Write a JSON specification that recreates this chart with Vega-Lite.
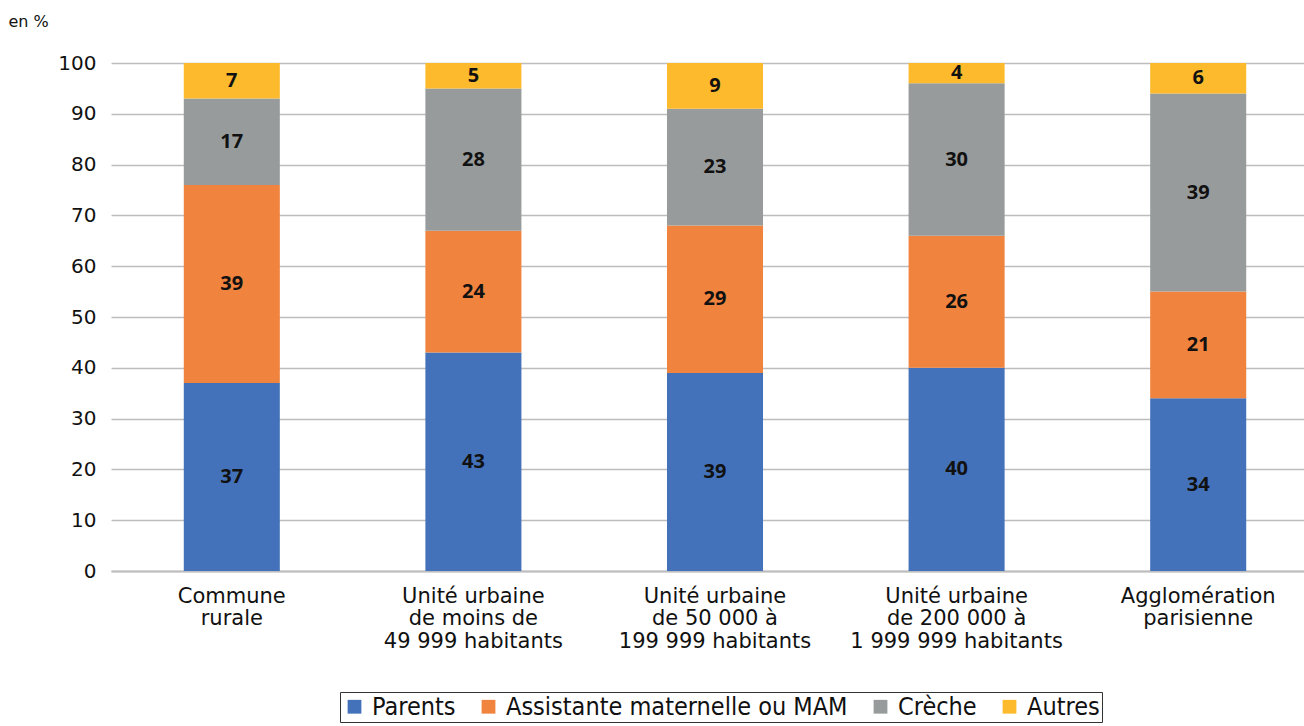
{
  "$schema": "https://vega.github.io/schema/vega-lite/v6.json",
  "width": 1190,
  "height": 508,
  "padding": {"left": 111, "top": 63, "right": 3, "bottom": 155},
  "autosize": {"type": "none"},
  "background": "white",
  "data": {
    "values": [
      {"zone": "Commune|rurale", "type": "Parents", "k": 1, "v": 37},
      {"zone": "Commune|rurale", "type": "Assistante maternelle ou MAM", "k": 2, "v": 39},
      {"zone": "Commune|rurale", "type": "Crèche", "k": 3, "v": 17},
      {"zone": "Commune|rurale", "type": "Autres", "k": 4, "v": 7},
      {"zone": "Unité urbaine|de moins de|49 999 habitants", "type": "Parents", "k": 1, "v": 43},
      {"zone": "Unité urbaine|de moins de|49 999 habitants", "type": "Assistante maternelle ou MAM", "k": 2, "v": 24},
      {"zone": "Unité urbaine|de moins de|49 999 habitants", "type": "Crèche", "k": 3, "v": 28},
      {"zone": "Unité urbaine|de moins de|49 999 habitants", "type": "Autres", "k": 4, "v": 5},
      {"zone": "Unité urbaine|de 50 000 à|199 999 habitants", "type": "Parents", "k": 1, "v": 39},
      {"zone": "Unité urbaine|de 50 000 à|199 999 habitants", "type": "Assistante maternelle ou MAM", "k": 2, "v": 29},
      {"zone": "Unité urbaine|de 50 000 à|199 999 habitants", "type": "Crèche", "k": 3, "v": 23},
      {"zone": "Unité urbaine|de 50 000 à|199 999 habitants", "type": "Autres", "k": 4, "v": 9},
      {"zone": "Unité urbaine|de 200 000 à|1 999 999 habitants", "type": "Parents", "k": 1, "v": 40},
      {"zone": "Unité urbaine|de 200 000 à|1 999 999 habitants", "type": "Assistante maternelle ou MAM", "k": 2, "v": 26},
      {"zone": "Unité urbaine|de 200 000 à|1 999 999 habitants", "type": "Crèche", "k": 3, "v": 30},
      {"zone": "Unité urbaine|de 200 000 à|1 999 999 habitants", "type": "Autres", "k": 4, "v": 4},
      {"zone": "Agglomération|parisienne", "type": "Parents", "k": 1, "v": 34},
      {"zone": "Agglomération|parisienne", "type": "Assistante maternelle ou MAM", "k": 2, "v": 21},
      {"zone": "Agglomération|parisienne", "type": "Crèche", "k": 3, "v": 39},
      {"zone": "Agglomération|parisienne", "type": "Autres", "k": 4, "v": 6}
    ]
  },
  "config": {
    "view": {"stroke": null},
    "font": "DejaVu Sans"
  },
  "encoding": {
    "x": {
      "field": "zone",
      "type": "nominal",
      "sort": null,
      "scale": {"range": [0, 1208], "paddingInner": 0.6025, "paddingOuter": 0.30125},
      "axis": {
        "title": null,
        "labelExpr": "split(datum.value, '|')",
        "labelAngle": 0,
        "labelFontSize": 21,
        "labelColor": "#111111",
        "labelLineHeight": 22.5,
        "labelPadding": 14,
        "labelBaseline": "top",
        "labelLimit": 0,
        "ticks": false,
        "domain": true,
        "domainColor": "#bdbdbd",
        "domainWidth": 2
      }
    },
    "y": {
      "field": "v",
      "type": "quantitative",
      "stack": "zero",
      "scale": {"domain": [0, 100], "nice": false},
      "axis": {
        "values": [0, 10, 20, 30, 40, 50, 60, 70, 80, 90, 100],
        "title": "en %",
        "titleAngle": 0,
        "titleAlign": "left",
        "titleBaseline": "middle",
        "titleX": -103,
        "titleY": -42,
        "titleFont": "DejaVu Sans",
        "titleFontSize": 16,
        "titleFontWeight": "normal",
        "titleColor": "#111111",
        "labelFontSize": 20,
        "labelColor": "#111111",
        "labelPadding": 15,
        "ticks": false,
        "domain": false,
        "grid": true,
        "gridColor": "#bdbdbd",
        "gridWidth": 1.5
      }
    },
    "order": {"field": "k", "type": "quantitative", "sort": "ascending"}
  },
  "layer": [
    {
      "mark": {"type": "bar"},
      "encoding": {
        "color": {
          "field": "type",
          "type": "nominal",
          "sort": ["Parents", "Assistante maternelle ou MAM", "Crèche", "Autres"],
          "scale": {
            "domain": ["Parents", "Assistante maternelle ou MAM", "Crèche", "Autres"],
            "range": ["#4472BA", "#F0833E", "#979B9B", "#FDBA2C"]
          },
          "legend": {
            "title": null,
            "orient": "none",
            "legendX": 229,
            "legendY": 629,
            "direction": "horizontal",
            "symbolType": "square",
            "symbolSize": 190,
            "symbolStrokeWidth": 0,
            "labelFont": "DejaVu Sans Condensed, Roboto Condensed, Roboto",
            "labelFontSize": 25,
            "labelColor": "#111111",
            "labelOffset": 5,
            "labelLimit": 0,
            "columnPadding": 20,
            "strokeColor": "#333333",
            "padding": 2
          }
        }
      }
    },
    {
      "mark": {"type": "text", "font": "Open Sans", "fontWeight": "bold", "fontSize": 20, "color": "#111111", "baseline": "middle"},
      "encoding": {
        "y": {"field": "v", "type": "quantitative", "stack": "zero", "bandPosition": 0.5},
        "detail": {"field": "type"},
        "text": {"field": "v", "type": "quantitative"}
      }
    }
  ]
}
